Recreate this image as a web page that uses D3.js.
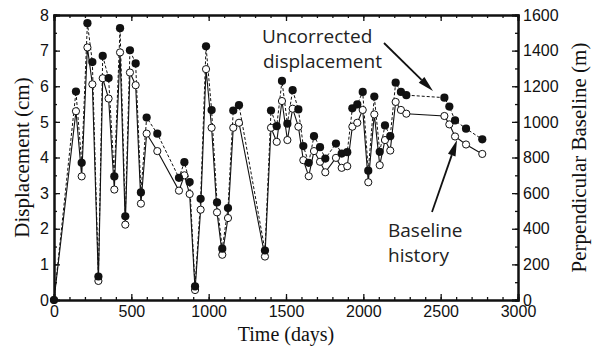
<!DOCTYPE html>
<html>
<head>
<meta charset="utf-8">
<script src="https://cdn.jsdelivr.net/npm/d3@7"></script>
<style>
  body { margin: 0; background: #fff; }
  svg { display: block; }
  .tick text { font-family: "Liberation Sans", Arial, sans-serif; font-size: 16px; fill: #111; }
  .title { font-family: "Liberation Serif", "Times New Roman", serif; font-size: 20px; fill: #111; }
  .vtitle { font-size: 21px; }
  .note { font-family: "Open Sans", sans-serif; font-size: 19px; fill: #222; }
</style>
</head>
<body>
<svg width="599" height="347"></svg>
<script>
// acquisition times (days)
const days = [0, 142, 179, 216, 248, 287, 315, 353, 390, 427, 461, 491, 528, 562, 599, 668,
  808, 843, 877, 912, 948, 983, 1019, 1054, 1088, 1125, 1159, 1196, 1364, 1403, 1440, 1474,
  1509, 1543, 1580, 1612, 1647, 1681, 1720, 1754, 1823, 1860, 1896, 1929, 1961, 1996, 2032,
  2071, 2106, 2140, 2174, 2209, 2243, 2278, 2524, 2556, 2593, 2664, 2769];

// uncorrected displacement (cm)
const displacement = [0, 5.85, 3.85, 7.77, 6.68, 0.66, 6.85, 6.23, 3.47, 7.63, 2.35, 7.01, 6.64, 3.02, 5.12, 4.67,
  3.43, 3.87, 3.31, 0.38, 2.84, 7.12, 5.33, 2.74, 1.44, 2.58, 5.32, 5.47, 1.39, 5.32, 4.88, 6.15,
  4.95, 5.89, 5.35, 4.32, 3.85, 4.60, 4.29, 3.97, 4.39, 4.11, 4.15, 5.38, 5.49, 5.84, 3.63,
  5.71, 4.16, 4.90, 4.60, 6.10, 5.84, 5.75, 5.68, 5.43, 5.04, 4.81, 4.51];

// perpendicular baseline history (m)
const baseline = [0, 1060, 694, 1418, 1211, 107, 1245, 1131, 620, 1390, 423, 1277, 1206, 541, 934, 836,
  614, 700, 595, 56, 507, 1296, 967, 492, 254, 460, 967, 995, 244, 967, 888, 1117,
  898, 1074, 973, 785, 695, 836, 776, 717, 798, 742, 751, 973, 995, 1067, 661,
  1042, 757, 898, 839, 1112, 1067, 1046, 1033, 986, 918, 873, 820];

const xTicks = [0, 500, 1000, 1500, 2000, 2500, 3000];
const yTicks = [0, 1, 2, 3, 4, 5, 6, 7, 8];
const y2Ticks = [0, 200, 400, 600, 800, 1000, 1200, 1400, 1600];

const svg = d3.select('svg');
const margin = { top: 15, right: 81, bottom: 47, left: 54 };
const width = +svg.attr('width') - margin.left - margin.right;
const height = +svg.attr('height') - margin.top - margin.bottom;

const x = d3.scaleLinear().domain([0, 3000]).range([0, width]);
const y = d3.scaleLinear().domain([0, 8]).range([height, 0]);
const y2 = d3.scaleLinear().domain([0, 1600]).range([height, 0]);

const g = svg.append('g').attr('transform', `translate(${margin.left},${margin.top})`);

// minor ticks first, then the major axes on top
const minor = (axis, scale, vals) => axis(scale).tickValues(vals).tickSize(3).tickFormat('');
const xMinor = d3.range(0, 3001, 100);
const yMinor = d3.range(0, 8.01, 0.5);
const y2Minor = d3.range(0, 1601, 100);

g.append('g').attr('transform', `translate(0,${height})`).call(minor(d3.axisTop, x, xMinor));
g.append('g').call(minor(d3.axisBottom, x, xMinor));
g.append('g').call(minor(d3.axisRight, y, yMinor));
g.append('g').attr('transform', `translate(${width},0)`).call(minor(d3.axisLeft, y2, y2Minor));

const fmt = d3.format('d');
g.append('g').attr('class', 'x-axis')
  .attr('transform', `translate(0,${height})`)
  .call(d3.axisBottom(x).tickValues(xTicks).tickSize(-6).tickPadding(6).tickFormat(fmt));
g.append('g').call(d3.axisTop(x).tickValues(xTicks).tickSize(-6).tickFormat(''));
g.append('g').attr('class', 'y-axis')
  .call(d3.axisLeft(y).tickValues(yTicks).tickSize(-6).tickPadding(5).tickFormat(fmt));
g.append('g').attr('class', 'y2-axis')
  .attr('transform', `translate(${width},0)`)
  .call(d3.axisRight(y2).tickValues(y2Ticks).tickSize(-6).tickPadding(5).tickFormat(fmt));

g.selectAll('.domain').attr('stroke', '#111').attr('stroke-width', 2);
g.selectAll('.tick line').attr('stroke', '#111').attr('stroke-width', 1.3);

const pts = days.map((d, i) => ({ t: d, disp: displacement[i], base: baseline[i] }));

// baseline history: solid line, open circles
g.append('path').datum(pts)
  .attr('fill', 'none').attr('stroke', '#111').attr('stroke-width', 1.1)
  .attr('d', d3.line().x(d => x(d.t)).y(d => y2(d.base)));

// uncorrected displacement: dashed line, filled circles
g.append('path').datum(pts)
  .attr('fill', 'none').attr('stroke', '#111').attr('stroke-width', 1)
  .attr('stroke-dasharray', '3,2')
  .attr('d', d3.line().x(d => x(d.t)).y(d => y(d.disp)));

g.selectAll('.open').data(pts).enter().append('circle')
  .attr('class', 'open')
  .attr('cx', d => x(d.t)).attr('cy', d => y2(d.base)).attr('r', 3.6)
  .attr('fill', '#fff').attr('stroke', '#111').attr('stroke-width', 1);

g.selectAll('.filled').data(pts).enter().append('circle')
  .attr('class', 'filled')
  .attr('cx', d => x(d.t)).attr('cy', d => y(d.disp)).attr('r', 4.1)
  .attr('fill', '#111');

// annotations
function arrow(x1, y1, x2, y2) {
  const a = Math.atan2(y2 - y1, x2 - x1);
  const len = 16, half = 4;
  const bx = x2 - len * Math.cos(a), by = y2 - len * Math.sin(a);
  svg.append('line').attr('x1', x1).attr('y1', y1).attr('x2', bx).attr('y2', by)
    .attr('stroke', '#111').attr('stroke-width', 1.8);
  svg.append('polygon')
    .attr('points', [
      [x2, y2],
      [bx + half * Math.sin(a), by - half * Math.cos(a)],
      [bx - half * Math.sin(a), by + half * Math.cos(a)]
    ].map(p => p.join(',')).join(' '))
    .attr('fill', '#111');
}

svg.append('text').attr('class', 'note').attr('x', 262).attr('y', 43).text('Uncorrected');
svg.append('text').attr('class', 'note').attr('x', 263).attr('y', 68).text('displacement');
arrow(384, 43, 433, 91);

svg.append('text').attr('class', 'note').attr('x', 388).attr('y', 237).text('Baseline');
svg.append('text').attr('class', 'note').attr('x', 388).attr('y', 262).text('history');
arrow(432, 212, 457, 140);

// axis titles
svg.append('text').attr('class', 'title')
  .attr('x', margin.left + width / 2).attr('y', 341)
  .attr('text-anchor', 'middle').text('Time (days)');
svg.append('text').attr('class', 'title vtitle')
  .attr('transform', 'rotate(-90)')
  .attr('x', -(margin.top + height / 2)).attr('y', 29)
  .attr('text-anchor', 'middle').text('Displacement (cm)');
svg.append('text').attr('class', 'title vtitle')
  .attr('transform', 'rotate(-90)')
  .attr('x', -(margin.top + height / 2)).attr('y', 586)
  .attr('text-anchor', 'middle').text('Perpendicular Baseline (m)');
</script>
</body>
</html>
